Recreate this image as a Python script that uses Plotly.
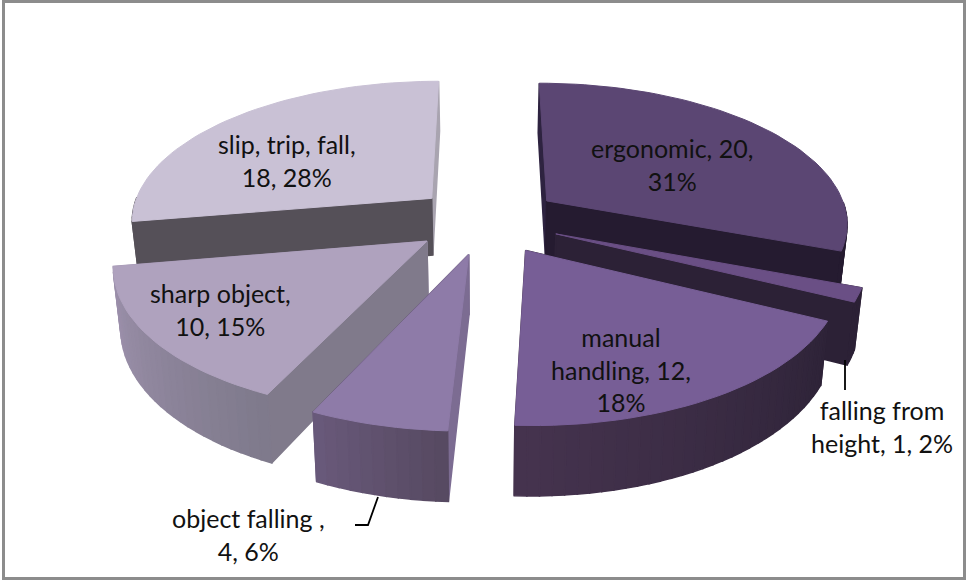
import math

import plotly.graph_objects as go

# chart data
CATEGORIES = ["ergonomic", "falling from height", "manual handling", "object falling", "sharp object", "slip, trip, fall"]
VALUES = [20, 1, 12, 4, 10, 18]

# face colours, one per slice
TOP_COLORS = ["#5B4673", "#6A4F85", "#775E96", "#8E7BA8", "#AFA2BE", "#C9C1D5"]
WALL_START = ["#2E2340", "#2C2136", "#2E2338", "#7C6C92", "#807A8B", "#555058"]
WALL_END = ["#251B30", "#2C2136", "#46344F", "#6A5A7C", "#A093AF", "#A9A4B0"]
ARC_START = ["#251B30", "#2C2136", "#2E2338", "#574A62", "#7F7A8C", "#555058"]
ARC_END = ["#251B30", "#2C2136", "#46344F", "#6A5A7C", "#A093AF", "#555058"]
DRAW_ORDER = [0, 5, 1, 4, 2, 3]

# label text and where it sits
LABELS = [
    ("ergonomic, 20,<br>31%", 672, 164),
    ("falling from<br>height, 1, 2%", 882, 426),
    ("manual<br>handling, 12,<br>18%", 621, 369),
    ("object falling ,<br>4, 6%", 248, 534),
    ("sharp object,<br>10, 15%", 220, 309),
    ("slip, trip, fall,<br>18, 28%", 287, 160),
]

# camera of the tilted pie, in pixels
CX, HORIZON, Y_SCALE, X_SCALE, TILT = 487, -745, 965, 302, 0.145
EXPLODE, DEPTH, FOOT_SHRINK = 0.245, 58, 0.98


def project(x, y, low=False):
    w = 1 + TILT * y
    sx = X_SCALE * x / w
    sy = HORIZON + Y_SCALE / w
    if low:
        return CX + sx * FOOT_SHRINK, sy + DEPTH / w
    return CX + sx, sy


def mix(a, b, t):
    ca = [int(a[i:i + 2], 16) for i in (1, 3, 5)]
    cb = [int(b[i:i + 2], 16) for i in (1, 3, 5)]
    return "#%02x%02x%02x" % tuple(round(p + (q - p) * t) for p, q in zip(ca, cb))


def polygon(fig, points, color, edge=0.6):
    xs, ys = zip(*points)
    fig.add_trace(go.Scatter(
        x=list(xs) + [xs[0]], y=list(ys) + [ys[0]],
        mode="lines", fill="toself", fillcolor=color,
        line=dict(color=color, width=edge),
        hoverinfo="skip", showlegend=False,
    ))


def draw_slice(fig, i, start, end):
    mid = math.radians((start + end) / 2)
    ax, ay = EXPLODE * math.sin(mid), EXPLODE * math.cos(mid)
    steps = max(4, int((end - start) / 2))
    angles = [math.radians(start + (end - start) * k / steps) for k in range(steps + 1)]
    rim = [(ax + math.sin(a), ay + math.cos(a)) for a in angles]

    faces = []
    for p, c in ((rim[0], WALL_START[i]), (rim[-1], WALL_END[i])):
        quad = [project(ax, ay), project(*p), project(*p, low=True), project(ax, ay, low=True)]
        faces.append(((ay + p[1]) / 2, quad, c))
    for k in range(steps):
        # the back of the rim faces away from the camera
        if math.cos((angles[k] + angles[k + 1]) / 2) > 0:
            continue
        p, q = rim[k], rim[k + 1]
        quad = [project(*p), project(*q), project(*q, low=True), project(*p, low=True)]
        faces.append(((p[1] + q[1]) / 2, quad, mix(ARC_START[i], ARC_END[i], k / steps)))

    # far faces first, the top goes over everything
    for _, quad, color in sorted(faces, key=lambda f: -f[0]):
        polygon(fig, quad, color, edge=1.5)
    polygon(fig, [project(ax, ay)] + [project(*p) for p in rim], TOP_COLORS[i], edge=1)


fig = go.Figure()

total = sum(VALUES)
edges = [0]
for v in VALUES:
    edges.append(edges[-1] + v / total * 360)

for i in DRAW_ORDER:
    draw_slice(fig, i, edges[i], edges[i + 1])

# leader lines
for lx, ly in (([378, 368, 355], [497, 525, 525]), ([845, 845], [360, 390])):
    fig.add_trace(go.Scatter(x=lx, y=ly, mode="lines", line=dict(color="#000000", width=1.8),
                             hoverinfo="skip", showlegend=False))

for text, x, y in LABELS:
    fig.add_annotation(x=x, y=y, text=text, showarrow=False, align="center",
                       font=dict(family="Lato, Carlito, sans-serif", size=25, color="#111111"))

# chart frame
fig.add_shape(type="rect", x0=3.5, y0=1.5, x1=964.5, y1=578.5, line=dict(color="#8C8C8C", width=3), layer="above")

fig.update_layout(
    width=966, height=580,
    margin=dict(l=0, r=0, t=0, b=0),
    paper_bgcolor="#FFFFFF", plot_bgcolor="#FFFFFF",
    xaxis=dict(range=[0, 966], visible=False, fixedrange=True),
    yaxis=dict(range=[580, 0], visible=False, fixedrange=True),
)

fig.write_html("out.html", config={"displayModeBar": False},
               post_script="document.body.style.margin='0';")
